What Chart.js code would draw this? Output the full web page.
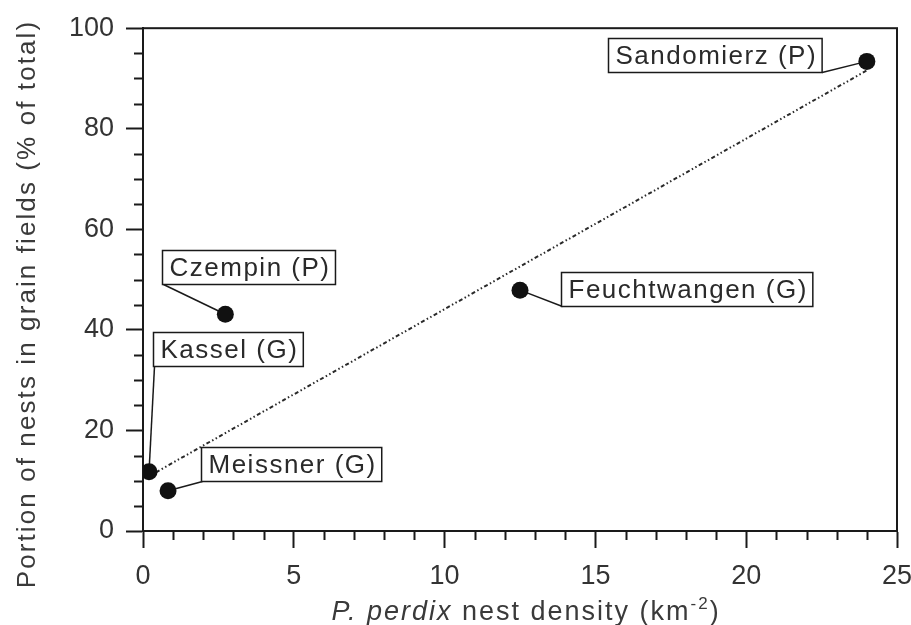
<!DOCTYPE html>
<html>
<head>
<meta charset="utf-8">
<script src="https://cdn.jsdelivr.net/npm/chart.js@4.4.1/dist/chart.umd.min.js"></script>
<style>
  html, body { margin: 0; padding: 0; background: #fff; }
  #wrap { width: 911px; height: 625px; position: relative; }
</style>
</head>
<body>
<div id="wrap"><canvas id="c" width="911" height="625"></canvas></div>
<script>
// ---- data ----
const siteNames   = ['Sandomierz (P)', 'Feuchtwangen (G)', 'Czempin (P)', 'Kassel (G)', 'Meissner (G)'];
const nestDensity = [24.0, 12.5, 2.73, 0.2, 0.83];   // km^-2
const grainShare  = [93.4, 47.9, 43.1, 11.8, 8.0];   // % of nests in grain fields
const fitX = [0.2, 24.0];
const fitY = [10.9, 91.6];
const xTickValues = [0, 5, 10, 15, 20, 25];
const yTickValues = [0, 20, 40, 60, 80, 100];

// ---- label box placement (pixel offsets from each point, style only) ----
const labelStyle = [
  { dx: -259, dy: -23, anchor: 'br' },
  { dx: 41,   dy: -18, anchor: 'bl' },
  { dx: -63,  dy: -64, anchor: 'bl' },
  { dx: 4,    dy: -140, anchor: 'bl' },
  { dx: 33,   dy: -44, anchor: 'bl' }
];

const FONT = '"Liberation Sans", Arial, sans-serif';
const INK = '#1a1a1a';

const scatterData = nestDensity.map((x, i) => ({ x: x, y: grainShare[i] }));
const fitData = fitX.map((x, i) => ({ x: x, y: fitY[i] }));

function textW(ctx, s) { return ctx.measureText(s).width; }

const decorPlugin = {
  id: 'decor',
  beforeDatasetsDraw(chart) {
    const ctx = chart.ctx;
    const xs = chart.scales.x, ys = chart.scales.y;
    const ca = chart.chartArea;
    ctx.save();
    // frame
    ctx.strokeStyle = INK;
    ctx.lineWidth = 2;
    ctx.strokeRect(ca.left, ca.top, ca.right - ca.left, ca.bottom - ca.top);
    // minor ticks
    ctx.lineWidth = 2;
    ctx.beginPath();
    for (let v = 0; v <= 25; v += 1) {
      if (v % 5 === 0) continue;
      const px = Math.round(xs.getPixelForValue(v)) + 0.5;
      ctx.moveTo(px, ca.bottom);
      ctx.lineTo(px, ca.bottom + 9);
    }
    for (let v = 0; v <= 100; v += 5) {
      if (v % 20 === 0) continue;
      const py = Math.round(ys.getPixelForValue(v)) + 0.5;
      ctx.moveTo(ca.left, py);
      ctx.lineTo(ca.left - 9, py);
    }
    ctx.stroke();

    // label boxes + leader lines
    ctx.font = '26px ' + FONT;
    ctx.letterSpacing = '1.5px';
    ctx.textBaseline = 'middle';
    ctx.textAlign = 'left';
    siteNames.forEach((name, i) => {
      const st = labelStyle[i];
      const px = xs.getPixelForValue(nestDensity[i]);
      const py = ys.getPixelForValue(grainShare[i]);
      const w = textW(ctx, name) + 12;
      const h = 34;
      const bx = Math.round(px + st.dx) + 0.5;
      const by = Math.round(py + st.dy) + 0.5;
      // leader
      ctx.strokeStyle = INK;
      ctx.lineWidth = 1.5;
      ctx.beginPath();
      if (st.anchor === 'br') ctx.moveTo(bx + w, by + h);
      else ctx.moveTo(bx + 1, by + h);
      ctx.lineTo(px, py);
      ctx.stroke();
      // box
      ctx.fillStyle = '#fff';
      ctx.fillRect(bx, by, w, h);
      ctx.lineWidth = 1.5;
      ctx.strokeRect(bx, by, w, h);
      ctx.fillStyle = '#2a2a2a';
      ctx.fillText(name, bx + 7, by + h / 2 + 1);
    });

    // axis titles
    ctx.fillStyle = '#3a3a3a';
    ctx.letterSpacing = '2px';
    ctx.textBaseline = 'alphabetic';
    // x title with italic species name
    const p1 = 'P. perdix';
    const p2 = ' nest density (km';
    const p3 = '-2';
    const p4 = ')';
    ctx.font = 'italic 27px ' + FONT;
    const w1 = textW(ctx, p1);
    ctx.font = '27px ' + FONT;
    const w2 = textW(ctx, p2);
    const w4 = textW(ctx, p4);
    ctx.font = '17px ' + FONT;
    const w3 = textW(ctx, p3);
    const total = w1 + w2 + w3 + w4;
    let x0 = 526 - total / 2;
    const base = 620;
    ctx.textAlign = 'left';
    ctx.font = 'italic 27px ' + FONT;
    ctx.fillText(p1, x0, base); x0 += w1;
    ctx.font = '27px ' + FONT;
    ctx.fillText(p2, x0, base); x0 += w2;
    ctx.font = '17px ' + FONT;
    ctx.fillText(p3, x0, base - 11); x0 += w3;
    ctx.font = '27px ' + FONT;
    ctx.fillText(p4, x0, base);

    // y title
    ctx.save();
    ctx.translate(35, 304);
    ctx.rotate(-Math.PI / 2);
    ctx.textAlign = 'center';
    ctx.font = '26px ' + FONT;
    ctx.letterSpacing = '2.1px';
    ctx.fillText('Portion of nests in grain fields (% of total)', 0, 0);
    ctx.restore();

    ctx.restore();
  }
};

new Chart(document.getElementById('c'), {
  type: 'scatter',
  data: {
    datasets: [
      {
        label: 'Sites',
        data: scatterData,
        pointRadius: 8.5,
        pointHoverRadius: 8.5,
        pointBackgroundColor: '#111',
        pointBorderWidth: 0,
        order: 0
      },
      {
        type: 'line',
        label: 'Fit',
        data: fitData,
        borderColor: '#2a2a2a',
        borderWidth: 2,
        borderDash: [1.5, 2.5, 1.5, 2.5, 4, 2.5],
        pointRadius: 0,
        fill: false,
        order: 1
      }
    ]
  },
  options: {
    responsive: false,
    animation: false,
    events: [],
    layout: { padding: { top: 27, right: 0, left: 0, bottom: 0 } },
    plugins: { legend: { display: false }, tooltip: { enabled: false } },
    scales: {
      x: {
        type: 'linear',
        min: 0, max: 25,
        afterFit(scale) { scale.height = 94; scale.paddingRight = 14; },
        afterBuildTicks(scale) { scale.ticks = xTickValues.map(v => ({ value: v })); },
        grid: { drawOnChartArea: false, drawTicks: true, tickLength: 17, tickWidth: 2, tickColor: INK },
        border: { display: true, color: INK, width: 2 },
        ticks: { color: '#333', padding: 12, font: { family: FONT, size: 27 } }
      },
      y: {
        type: 'linear',
        min: 0, max: 100,
        afterFit(scale) { scale.width = 143; },
        afterBuildTicks(scale) { scale.ticks = yTickValues.map(v => ({ value: v })); },
        grid: { drawOnChartArea: false, drawTicks: true, tickLength: 17, tickWidth: 2, tickColor: INK },
        border: { display: true, color: INK, width: 2 },
        ticks: { color: '#333', padding: 12, font: { family: FONT, size: 27 } }
      }
    }
  },
  plugins: [decorPlugin]
});
</script>
</body>
</html>
